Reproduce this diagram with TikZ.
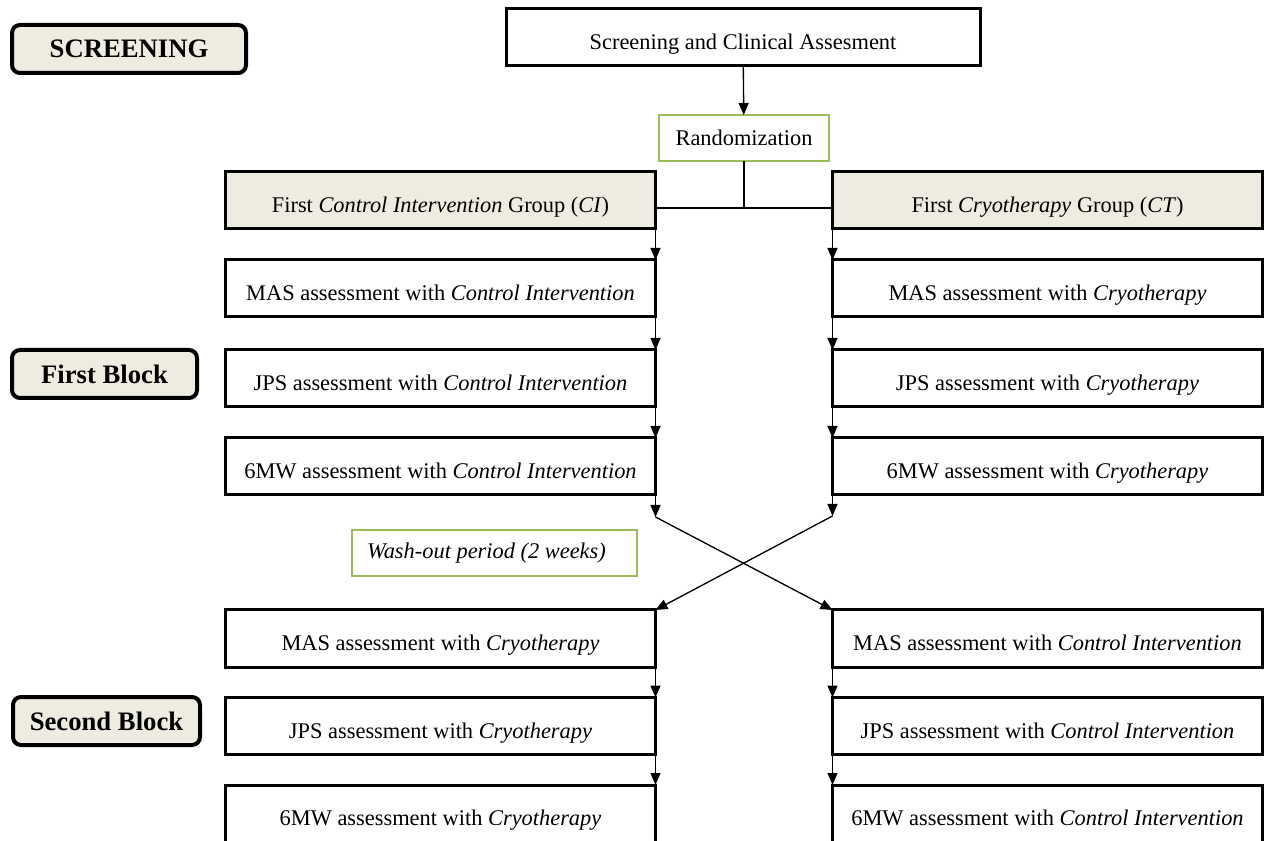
\documentclass[tikz,border=0pt]{standalone}
\usepackage{fontspec}
\setmainfont{Liberation Serif}
\usetikzlibrary{arrows.meta}
\definecolor{beige}{HTML}{EEECE1}
\definecolor{olivegreen}{HTML}{9BBB59}

\begin{document}
\begin{tikzpicture}[x=0.75pt,y=0.75pt,yscale=-1,xscale=1,
  colbox/.style={draw,line width=2.25pt,minimum width=322.5pt,minimum height=42.75pt,inner sep=0pt,outer sep=0pt,text height=22pt,text depth=3.5pt,font=\fontsize{16.8}{20}\selectfont},
  groupbox/.style={colbox,fill=beige},
  labelbox/.style={draw,line width=3pt,rounded corners=6pt,fill=beige,minimum height=36pt,inner sep=0pt,outer sep=0pt,font=\fontsize{20}{24}\selectfont\bfseries},
  greenbox/.style={draw=olivegreen,line width=0.9pt,minimum height=34.5pt,inner sep=0pt,outer sep=0pt,text height=11.5pt,text depth=3.5pt,font=\fontsize{16.8}{20}\selectfont},
  conn/.style={line width=1pt,-{Triangle[length=9pt,width=7.5pt]}}]
\useasboundingbox (0,0) rectangle (1272,841);
\clip (0,0) rectangle (1272,841);

% Label Node
\node[labelbox,minimum width=175.5pt] (lscreen) at (129,49) {SCREENING};
% Label Node
\node[labelbox,minimum width=138.75pt] (lfirst) at (104.5,374) {First Block};
% Label Node
\node[labelbox,minimum width=140.25pt] (lsecond) at (106.5,721) {Second Block};

% Text Node
\node[colbox,minimum width=355.5pt] (screen) at (743,37.5) {Screening and Clinical Assesment};
% Text Node
\node[greenbox,minimum width=127.5pt,text height=15.5pt] (rand) at (744,138) {Randomization};
% Text Node
\node[greenbox,minimum width=213.75pt] (wash) at (494.5,553) {\hspace*{-12pt}\itshape Wash-out period (2 weeks)};

% Text Node
\node[groupbox] (ci) at (440.5,200.5) {First \textit{Control Intervention} Group (\textit{CI})};
% Text Node
\node[groupbox] (ct) at (1047.5,200.5) {First \textit{Cryotherapy} Group (\textit{CT})};

% Text Node
\node[colbox] (masL) at (440.5,288.5) {MAS assessment with \textit{Control Intervention}};
% Text Node
\node[colbox] (jpsL) at (440.5,378.5) {JPS assessment with \textit{Control Intervention}};
% Text Node
\node[colbox] (mwL) at (440.5,466.5) {6MW assessment with \textit{Control Intervention}};
% Text Node
\node[colbox] (masR) at (1047.5,288.5) {MAS assessment with \textit{Cryotherapy}};
% Text Node
\node[colbox] (jpsR) at (1047.5,378.5) {JPS assessment with \textit{Cryotherapy}};
% Text Node
\node[colbox] (mwR) at (1047.5,466.5) {6MW assessment with \textit{Cryotherapy}};

% Text Node
\node[colbox] (masLL) at (440.5,638.5) {MAS assessment with \textit{Cryotherapy}};
% Text Node
\node[colbox] (jpsLL) at (440.5,726) {JPS assessment with \textit{Cryotherapy}};
% Text Node
\node[colbox] (mwLL) at (440.5,813.5) {6MW assessment with \textit{Cryotherapy}};
% Text Node
\node[colbox] (masRR) at (1047.5,638.5) {MAS assessment with \textit{Control Intervention}};
% Text Node
\node[colbox] (jpsRR) at (1047.5,726) {JPS assessment with \textit{Control Intervention}};
% Text Node
\node[colbox] (mwRR) at (1047.5,813.5) {6MW assessment with \textit{Control Intervention}};

\coordinate (split) at (744,208);
\coordinate (crossL) at (655.5,517);
\coordinate (crossR) at (832.5,516);

% Connection
\draw[conn] (screen) -- (rand);
% Connection
\draw[line width=1pt] (rand) -- (split);
% Connection
\draw[line width=1pt] (ci.east |- split) -- (ct.west |- split);

% Connection
\draw[conn] (ci.south east) -- (masL.north east);
% Connection
\draw[conn] (masL.south east) -- (jpsL.north east);
% Connection
\draw[conn] (jpsL.south east) -- (mwL.north east);
% Connection
\draw[conn] (mwL.south east) -- (crossL);

% Connection
\draw[conn] (ct.south west) -- (masR.north west);
% Connection
\draw[conn] (masR.south west) -- (jpsR.north west);
% Connection
\draw[conn] (jpsR.south west) -- (mwR.north west);
% Connection
\draw[conn] (mwR.south west) -- (crossR);

% Connection
\draw[conn] (crossL) -- (masRR.north west);
% Connection
\draw[conn] (crossR) -- (masLL.north east);

% Connection
\draw[conn] (masLL.south east) -- (jpsLL.north east);
% Connection
\draw[conn] (jpsLL.south east) -- (mwLL.north east);
% Connection
\draw[conn] (masRR.south west) -- (jpsRR.north west);
% Connection
\draw[conn] (jpsRR.south west) -- (mwRR.north west);

\end{tikzpicture}
\end{document}
